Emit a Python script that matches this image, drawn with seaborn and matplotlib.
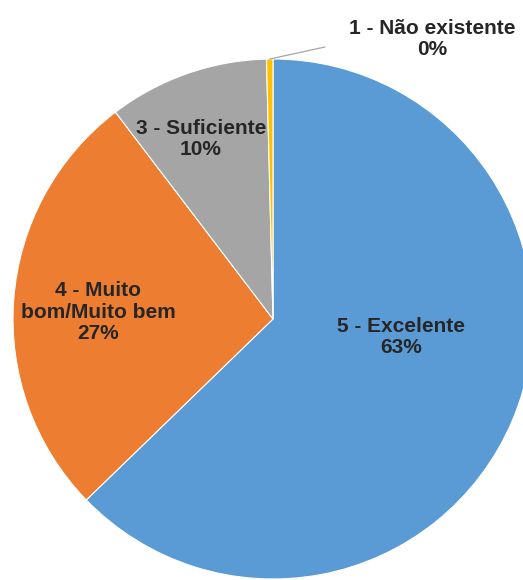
import numpy as np
import matplotlib
matplotlib.use("Agg")
import matplotlib.pyplot as plt
import seaborn as sns

# data
categories = ["5 - Excelente", "4 - Muito\nbom/Muito bem", "3 - Suficiente", "1 - Não existente"]
shares = [63.0, 27.0, 10.0, 0.4]
pct_labels = ["63%", "27%", "10%", "0%"]
colors = ["#5B9BD5", "#ED7D31", "#A5A5A5", "#FFC000"]

sns.set_theme(style="white")
plt.rcParams["font.family"] = ["Liberation Sans", "DejaVu Sans"]

W, H = 523, 580
fig = plt.figure(figsize=(W / 100, H / 100), dpi=100)
ax = fig.add_axes([0, 0, 1, 1])

cx, cy, r = 273, H - 319, 260
wedges, _ = ax.pie(shares, colors=colors, startangle=90, counterclock=False,
                   center=(cx, cy), radius=r, frame=True,
                   wedgeprops=dict(edgecolor="white", linewidth=0.8))
ax.set_xlim(0, W)
ax.set_ylim(0, H)
ax.set_aspect("equal")
ax.axis("off")

txt = dict(ha="center", va="center", fontsize=15, fontweight="bold",
           color="#262626", linespacing=1.15)

# label positions (pixel coords from top-left)
label_pos = [(401, 337), (98, 312), (201, 139), (432, 39)]
for cat, pct, (px, py) in zip(categories, pct_labels, label_pos):
    ax.text(px, H - py, f"{cat}\n{pct}", **txt)

# leader line for the tiny slice
w = wedges[3]
mid = np.deg2rad((w.theta1 + w.theta2) / 2)
x0, y0 = cx + r * np.cos(mid), cy + r * np.sin(mid)
ax.plot([x0, 325], [y0, H - 47], color="#A6A6A6", lw=0.9)

fig.savefig("out.png", dpi=100)
